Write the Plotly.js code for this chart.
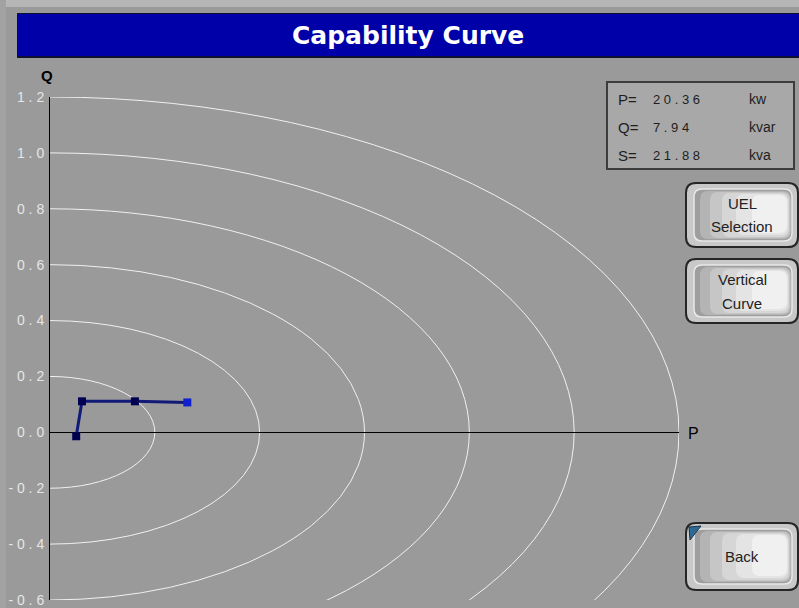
<!DOCTYPE html>
<html><head><meta charset="utf-8">
<script src="https://cdn.plot.ly/plotly-3.0.1.min.js"></script>
<style>html,body{margin:0;padding:0;background:#9a9a9a;}#chart{width:799px;height:608px;}</style>
</head><body><div id="chart"></div>
<script>
// ---- data ----
const pValues = [0.050, 0.061, 0.162, 0.262];
const qValues = [-0.014, 0.111, 0.111, 0.107];
const circleRadii = [0.2, 0.4, 0.6, 0.8, 1.0, 1.2];
const yTickVals = [1.2, 1.0, 0.8, 0.6, 0.4, 0.2, 0.0, -0.2, -0.4, -0.6];
const yTickText = ["1 . 2","1 . 0","0 . 8","0 . 6","0 . 4","0 . 2","0 . 0","- 0 . 2","- 0 . 4","- 0 . 6"];
const infoLabels = ["P=", "Q=", "S="];
const infoValues = ["20.36", "7.94", "21.88"];
const infoUnits = ["kw", "kvar", "kva"];
const chartTitle = "Capability Curve";

// ---- layout helpers (pixels -> paper) ----
const W = 799, H = 608, L = 50, R = 120, T = 97, B = 8;
const PW = W - L - R, PH = H - T - B;
const fx = px => (px - L) / PW;
const fy = py => (H - B - py) / PH;
function rr(x0, y0, x1, y1, r) {
  const p = [
    ['M', x0 + r, y0], ['L', x1 - r, y0], ['Q', x1, y0, x1, y0 + r],
    ['L', x1, y1 - r], ['Q', x1, y1, x1 - r, y1], ['L', x0 + r, y1],
    ['Q', x0, y1, x0, y1 - r], ['L', x0, y0 + r], ['Q', x0, y0, x0 + r, y0]
  ];
  return p.map(s => {
    const c = s[0]; const nums = s.slice(1);
    const out = [];
    for (let i = 0; i < nums.length; i += 2) out.push(fx(nums[i]).toFixed(5) + ',' + fy(nums[i + 1]).toFixed(5));
    return c + out.join(' ');
  }).join(' ') + ' Z';
}
function prect(x0, y0, x1, y1, fill, line, lw) {
  return {type: 'rect', xref: 'paper', yref: 'paper', x0: fx(x0), x1: fx(x1), y0: fy(y1), y1: fy(y0),
    fillcolor: fill, line: {color: line || fill, width: lw || 0}, layer: 'below'};
}
function ppath(d, fill, line, lw, layer) {
  return {type: 'path', xref: 'paper', yref: 'paper', path: d, fillcolor: fill,
    line: {color: line || fill, width: lw || 0}, layer: layer || 'above'};
}
function ann(px, py, text, size, color, opts) {
  return Object.assign({xref: 'paper', yref: 'paper', x: fx(px), y: fy(py), text: text, showarrow: false,
    font: {family: 'Liberation Sans, Arial, sans-serif', size: size, color: color}, xanchor: 'center', yanchor: 'middle'}, opts || {});
}

const shapes = [];
const annotations = [];

// circles (capability curves)
circleRadii.forEach(r => shapes.push({type: 'circle', xref: 'x', yref: 'y', x0: -r, x1: r, y0: -r, y1: r,
  line: {color: '#f0f0f0', width: 1}, layer: 'below'}));

// frame strips and title bar
shapes.push(prect(0, 0, 799, 7, '#b6b6b6'));
shapes.push(prect(0, 0, 6, 608, '#a2a2a2'));
shapes.push(prect(17, 13, 799, 58, '#101030'));
shapes.push(prect(18, 14, 799, 56, '#0000a8'));
annotations.push(ann(408, 36, '<b>' + chartTitle + '</b>', 25, '#ffffff',
  {font: {family: 'DejaVu Sans, Verdana, sans-serif', size: 25, color: '#ffffff'}}));

// axis labels
annotations.push(ann(47, 75, '<b>Q</b>', 15, '#000000'));
annotations.push(ann(693, 433, 'P', 16, '#000000'));

// info box
shapes.push(prect(607, 82, 794, 169, '#a8a8a8', '#3c3c3c', 2));
const rowY = [99, 127, 155];
infoLabels.forEach((lab, i) => {
  annotations.push(ann(616, rowY[i], lab, 15, '#1e1e1e', {xanchor: 'left'}));
  annotations.push(ann(651, rowY[i], infoValues[i].split('').join(' '), 13, '#1e1e1e', {xanchor: 'left'}));
  annotations.push(ann(747, rowY[i], infoUnits[i], 14, '#1e1e1e', {xanchor: 'left'}));
});

// buttons
function button(y0, y1, lines, withTri) {
  shapes.push(ppath(rr(686, y0, 798, y1, 10), '#c8c8c8', '#262626', 2));
  shapes.push(ppath(rr(694, y0 + 6, 792, y1 - 6, 8), '#9e9e9e', '#e8e8e8', 1.5));
  shapes.push(ppath(rr(700, y0 + 8, 791, y1 - 8, 8), '#b4b4b4'));
  shapes.push(ppath(rr(710, y0 + 9, 790, y1 - 9, 8), '#c6c6c6'));
  shapes.push(ppath(rr(722, y0 + 10, 789, y1 - 10, 8), '#d6d6d6'));
  shapes.push(ppath(rr(736, y0 + 11, 788, y1 - 12, 8), '#e4e4e4'));
  shapes.push(ppath(rr(752, y0 + 12, 787, y1 - 14, 8), '#f0f0f0'));
  if (withTri) {
    shapes.push(ppath('M' + fx(689) + ',' + fy(527) + ' L' + fx(701) + ',' + fy(526) + ' L' + fx(690) + ',' + fy(540) + ' Z', '#2e6a92', '#16344a', 1));
  }
  const n = lines.length, mid = (y0 + y1) / 2;
  lines.forEach((t, i) => annotations.push(ann(742, mid + (i - (n - 1) / 2) * 24, t, 15, '#222222')));
}
button(183, 247, ['UEL', 'Selection']);
button(259, 323, ['Vertical', 'Curve']);
button(523, 590, ['Back'], true);

const traces = [{
  x: pValues, y: qValues, type: 'scatter', mode: 'lines+markers',
  line: {color: '#121a78', width: 3},
  marker: {symbol: 'square', size: [8, 8, 8, 8], color: ['#000050', '#000050', '#000050', '#1020d0'], line: {width: 0}, opacity: 1},
  hoverinfo: 'skip', cliponaxis: false
}];

const layout = {
  width: W, height: H,
  margin: {l: L, r: R, t: T, b: B, pad: 0},
  paper_bgcolor: '#9a9a9a', plot_bgcolor: '#9a9a9a',
  showlegend: false,
  xaxis: {range: [0, 1.2], showgrid: false, zeroline: false, showline: false, showticklabels: false, fixedrange: true},
  yaxis: {range: [-0.6, 1.2], showgrid: false, zeroline: true, zerolinecolor: '#000000', zerolinewidth: 1,
    showline: true, linecolor: '#000000', linewidth: 1, ticks: '', tickvals: yTickVals, ticktext: yTickText,
    ticklabeloverflow: 'allow',
    tickfont: {family: 'Liberation Sans, Arial, sans-serif', size: 14, color: '#e6e6e6'}, ticklabelstandoff: 2, fixedrange: true},
  shapes: shapes,
  annotations: annotations
};
Plotly.newPlot('chart', traces, layout, {displayModeBar: false, staticPlot: true});
</script></body></html>
